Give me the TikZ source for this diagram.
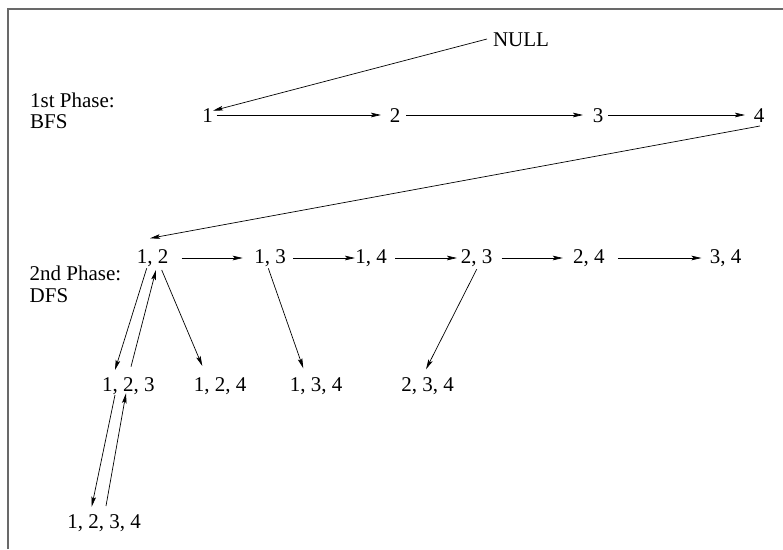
\documentclass[tikz,border=0pt]{standalone}
\usepackage{fontspec}
\setmainfont{Liberation Serif}
\usetikzlibrary{arrows.meta,calc}

\tikzset{
  lbl/.style={anchor=base, inner sep=0pt, font=\fontsize{21}{21}\selectfont},
  phase/.style={anchor=base west, inner sep=0pt, align=left,
                font=\fontsize{21}{21.5}\selectfont},
  link/.style={line width=0.7pt, -{Stealth[length=10pt,width=4.6pt,inset=2pt]}},
  frame/.style={line width=1.4pt, draw={rgb,255:red,105;green,105;blue,105}}
}

\begin{document}
\begin{tikzpicture}[x=1pt,y=-1pt]
  \useasboundingbox (0,0) rectangle (783,549);
  \draw[frame] (8,549) -- (8,9) -- (783,9);

  % phase captions (anchored on the baseline of their last line)
  \node[phase] (p1) at (30,128.5) {1st Phase:\\BFS};
  \node[phase] (p2) at (29.5,302) {2nd Phase:\\DFS};

  % first phase: single items
  \node[lbl] (null) at (521,46) {NULL};
  \node[lbl] (n1) at (207.5,122) {1};
  \node[lbl] (n2) at (395,122) {2};
  \node[lbl] (n3) at (598,122) {3};
  \node[lbl] (n4) at (759,122) {4};

  % second phase: pairs
  \node[lbl] (n12) at (152.5,263) {1, 2};
  \node[lbl] (n13) at (270,263) {1, 3};
  \node[lbl] (n14) at (371,263) {1, 4};
  \node[lbl] (n23) at (476.7,263) {2, 3};
  \node[lbl] (n24) at (588.8,263) {2, 4};
  \node[lbl] (n34) at (725.5,263) {3, 4};

  % triples and the full set
  \node[lbl] (n123) at (128.3,391) {1, 2, 3};
  \node[lbl] (n124) at (220,391) {1, 2, 4};
  \node[lbl] (n134) at (316,391) {1, 3, 4};
  \node[lbl] (n234) at (427.5,391) {2, 3, 4};
  \node[lbl] (n1234) at (104,528) {1, 2, 3, 4};

  % breadth-first chain
  \draw[link] ($(null.base)+(-34,-7)$) -- ($(n1.base)+(5.5,-11.3)$);
  \draw[link] ($(n1.base)+(9.2,-7)$) -- ($(n2.base)+(-14,-7)$);
  \draw[link] ($(n2.base)+(11,-7)$) -- ($(n3.base)+(-15,-7)$);
  \draw[link] ($(n3.base)+(10,-7)$) -- ($(n4.base)+(-14,-7)$);
  \draw[link] ($(n4.base)+(1,4)$) -- ($(n12.base)+(-2.5,-24.7)$);

  % pairs in sequence
  \draw[link] ($(n12.base)+(29,-5)$) -- ($(n13.base)+(-27.3,-5)$);
  \draw[link] ($(n13.base)+(23.3,-5)$) -- ($(n14.base)+(-16,-5)$);
  \draw[link] ($(n14.base)+(24,-5)$) -- ($(n23.base)+(-19.7,-5)$);
  \draw[link] ($(n23.base)+(25,-5)$) -- ($(n24.base)+(-26,-5)$);
  \draw[link] ($(n24.base)+(29,-5)$) -- ($(n34.base)+(-24,-5)$);

  % depth-first descents and returns
  \draw[link] ($(n12.base)+(-5.8,5.3)$) -- ($(n123.base)+(-13.3,-21)$);
  \draw[link] ($(n123.base)+(2.7,-24.3)$) -- ($(n12.base)+(3.5,7)$);
  \draw[link] ($(n12.base)+(9.2,7)$) -- ($(n124.base)+(-17.7,-25)$);
  \draw[link] ($(n13.base)+(-1.7,5.3)$) -- ($(n134.base)+(-12.7,-22.7)$);
  \draw[link] ($(n23.base)+(0,6.3)$) -- ($(n234.base)+(-1.5,-21.7)$);
  \draw[link] ($(n123.base)+(-13.3,4)$) -- ($(n1234.base)+(-12.3,-21.3)$);
  \draw[link] ($(n1234.base)+(2,-22)$) -- ($(n123.base)+(-2.3,2.3)$);
\end{tikzpicture}
\end{document}
